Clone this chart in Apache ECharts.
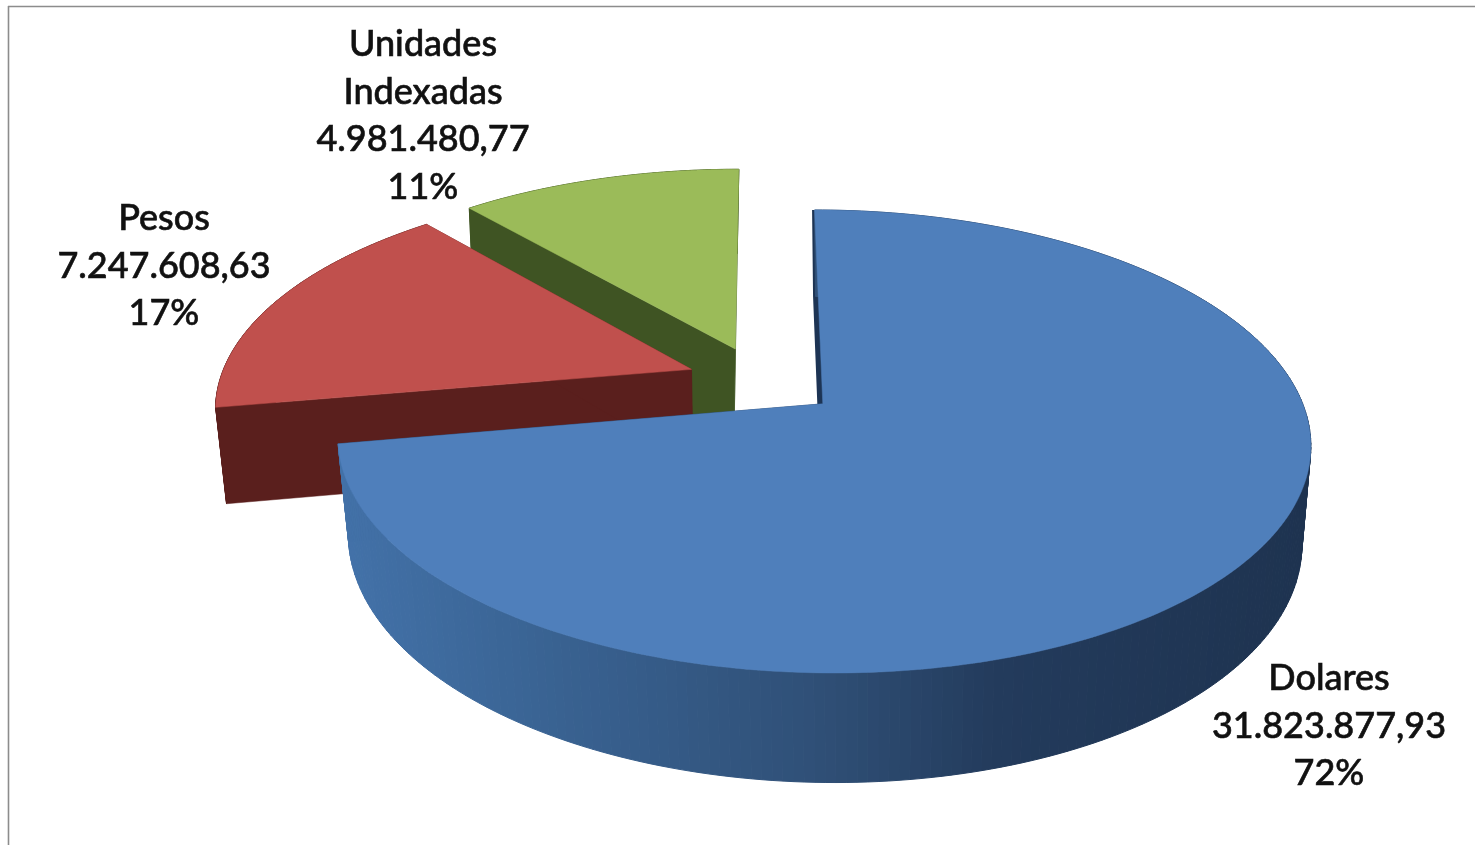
<!DOCTYPE html>
<html>
<head>
<meta charset="utf-8">
<style>
html,body{margin:0;padding:0;background:#fff;}
#chart{width:1475px;height:845px;filter:blur(0.5px);}
</style>
<script src="https://cdn.jsdelivr.net/npm/echarts@6/dist/echarts.min.js"></script>
</head>
<body>
<div id="chart"></div>
<script>
const categories = ['Dolares', 'Pesos', 'Unidades\nIndexadas'];
const values = [31823877.93, 7247608.63, 4981480.77];
const valueLabels = ['31.823.877,93', '7.247.608,63', '4.981.480,77'];
const percentLabels = ['72%', '17%', '11%'];

const topColors = ['#4f7fbb', '#c0504d', '#9bbb59'];
const cutColors = ['#1d3454', '#5a1f1d', '#3f5423'];
const drawLayer = [20, 10, 0];
const labelAnchors = [[1329, 655], [164, 195], [423, 21]];
const topNudge = [2, 0, -1];
const lowNudge = [4, 0, -3];
const rimStops = [[345, '#4372a9'], [540, '#3a6494'], [830, '#2f4f76'], [1000, '#233b5c'], [1300, '#1e3350']];

const CX = 762, CY = 381, RX = 472, RY = 218, PERSP = 0.16, EXPLODE = 0.16, DEPTH = 97, SHRINK = 0.98;
const total = values.reduce((a, b) => a + b, 0);

function project(u, v, low, i) {
  const s = 1 / (1 - PERSP * v);
  const f = low ? SHRINK : 1;
  return [CX + (low ? lowNudge[i] : topNudge[i]) + RX * u * s * f, CY + (RY * v + (low ? DEPTH : 0)) * s * f];
}

function rimColor(i, x) {
  if (i !== 0) return cutColors[i];
  for (let k = 1; k < rimStops.length; k++) {
    if (x <= rimStops[k][0]) {
      const t = Math.max(0, (x - rimStops[k - 1][0]) / (rimStops[k][0] - rimStops[k - 1][0]));
      return echarts.color.lerp(t, [rimStops[k - 1][1], rimStops[k][1]]);
    }
  }
  return rimStops[rimStops.length - 1][1];
}

function renderSlice(params, api) {
  const i = params.dataIndex;
  const value = api.value(0);
  let before = 0;
  for (let k = 0; k < i; k++) before += values[k];
  const a0 = before / total * Math.PI * 2;
  const a1 = (before + value) / total * Math.PI * 2;
  const am = (a0 + a1) / 2;
  const u0 = EXPLODE * Math.sin(am), v0 = -EXPLODE * Math.cos(am);
  const arc = (low) => {
    const pts = [];
    const n = 240;
    for (let t = 0; t <= n; t++) {
      const a = a0 + (a1 - a0) * t / n;
      pts.push(project(u0 + Math.sin(a), v0 - Math.cos(a), low, i));
    }
    return pts;
  };
  const topArc = arc(false), lowArc = arc(true);
  const apex = project(u0, v0, false, i), apexLow = project(u0, v0, true, i);
  const base = drawLayer[i];
  const poly = (points, fill, z2, stroke, lineWidth) => ({
    type: 'polygon', z2: base + z2, silent: true,
    shape: { points },
    style: { fill, stroke: stroke || fill, lineWidth: lineWidth || 0.5 }
  });
  const n = topArc.length - 1;
  const rimZ = i === 0 ? 1 : 0, cutZ = i === 0 ? 0 : 1;
  const children = [];
  for (let t = 0; t < n; t++) {
    const c = rimColor(i, lowArc[t][0]);
    children.push(poly([topArc[t], topArc[t + 1], lowArc[t + 1], lowArc[t]], c, rimZ, c, 1));
  }
  children.push(
    poly([apex, topArc[0], lowArc[0], apexLow], cutColors[i], cutZ, cutColors[i], i === 0 ? 5 : 0.5),
    poly([apex, topArc[n], lowArc[n], apexLow], cutColors[i], cutZ),
    poly([apex].concat(topArc), topColors[i], 2)
  );
  const anchor = labelAnchors[i];
  children.push({
    type: 'text', z2: 40, silent: true,
    style: {
      x: anchor[0], y: anchor[1],
      text: categories[i] + '\n' + valueLabels[i] + '\n' + percentLabels[i],
      fill: '#111', stroke: '#111', lineWidth: 0.6, font: '500 36px Lato, sans-serif',
      lineHeight: 47.5, align: 'center', verticalAlign: 'top'
    }
  });
  return { type: 'group', children };
}

const chart = echarts.init(document.getElementById('chart'), null, { renderer: 'canvas' });
chart.setOption({
  animation: false,
  backgroundColor: '#fff',
  graphic: [
    { type: 'line', silent: true, shape: { x1: 8, y1: 6.5, x2: 1475, y2: 6.5 }, style: { stroke: '#8c8c8c', lineWidth: 1.6 } },
    { type: 'line', silent: true, shape: { x1: 8.5, y1: 6, x2: 8.5, y2: 845 }, style: { stroke: '#8c8c8c', lineWidth: 1.6 } }
  ],
  series: [{
    type: 'custom',
    coordinateSystem: 'none',
    renderItem: renderSlice,
    data: categories.map((c, i) => ({ name: c, value: [values[i]] }))
  }]
});
</script>
</body>
</html>
